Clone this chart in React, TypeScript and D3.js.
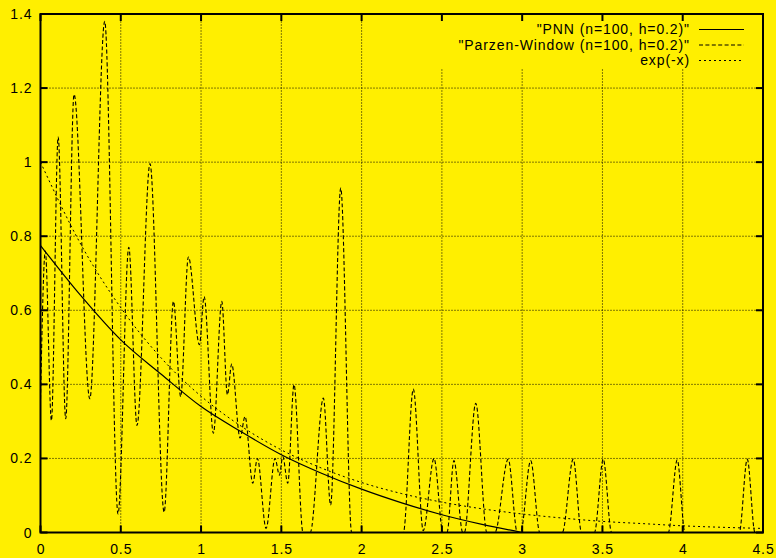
import React from "react";
import * as d3 from "d3";

const W = 776;
const H = 558;

const xTicks = [0, 0.5, 1, 1.5, 2, 2.5, 3, 3.5, 4, 4.5];
const xTickLabels = ["0", "0.5", "1", "1.5", "2", "2.5", "3", "3.5", "4", "4.5"];
const yTicks = [0, 0.2, 0.4, 0.6, 0.8, 1, 1.2, 1.4];
const yTickLabels = ["0", "0.2", "0.4", "0.6", "0.8", "1", "1.2", "1.4"];

const legendLabels = [
  "\"PNN (n=100, h=0.2)\"",
  "\"Parzen-Window (n=100, h=0.2)\"",
  "exp(-x)",
];

// PNN estimate (solid)
const pnnX = [0, 0.25, 0.5, 0.75, 1, 1.25, 1.5, 1.75, 2, 2.25, 2.5, 2.75, 3];
const pnnY = [0.775, 0.64, 0.52, 0.428, 0.34, 0.272, 0.21, 0.16, 0.117, 0.08, 0.048, 0.022, 0.0];

// Parzen-window estimate (dashed) – peaks and troughs
const parzenX = [
  0, 0.03, 0.068, 0.11, 0.157, 0.209, 0.307, 0.4, 0.483, 0.55, 0.601, 0.682, 0.77,
  0.828, 0.873, 0.921, 0.99, 1.019, 1.077, 1.129, 1.164, 1.191, 1.243, 1.274, 1.322,
  1.351, 1.405, 1.461, 1.488, 1.509, 1.54, 1.579, 1.635, 1.68, 1.762, 1.807, 1.87,
  1.938, 2.26, 2.322, 2.384, 2.451, 2.507, 2.532, 2.575, 2.63, 2.64, 2.711, 2.78,
  2.83, 2.913, 2.97, 2.99, 3.053, 3.11, 3.25, 3.318, 3.37, 3.45, 3.505, 3.557, 3.91,
  3.966, 4.014, 4.352, 4.402, 4.45, 4.5,
];
const parzenY = [
  0.36, 0.76, 0.302, 1.068, 0.307, 1.183, 0.361, 1.38, 0.05, 0.77, 0.289, 0.996, 0.055,
  0.624, 0.367, 0.744, 0.507, 0.637, 0.268, 0.624, 0.372, 0.455, 0.255, 0.313, 0.133,
  0.2, 0.011, 0.2, 0.155, 0.205, 0.133, 0.399, 0, 0, 0.363, 0.074, 0.93,
  0, 0, 0.387, 0.005, 0.2, 0, 0, 0.194, 0, 0, 0.349, 0,
  0, 0.198, 0, 0, 0.194, 0, 0, 0.198, 0, 0, 0.198, 0, 0,
  0.196, 0, 0, 0.198, 0, 0,
];

// exp(-x) (dotted)
const expX = [0, 0.25, 0.5, 0.75, 1, 1.25, 1.5, 1.75, 2, 2.25, 2.5, 2.75, 3, 3.25, 3.5, 3.75, 4, 4.25, 4.5];
const expY = [1, 0.779, 0.607, 0.472, 0.368, 0.287, 0.223, 0.174, 0.135, 0.105, 0.082, 0.064, 0.05, 0.039, 0.03, 0.024, 0.018, 0.014, 0.011];

const BG = "#FFEF00";
const FONT = "'Liberation Sans', Arial, Helvetica, sans-serif";

export default function App() {
  const x = d3.scaleLinear().domain([0, 4.5]).range([40.5, 763]);
  const y = d3.scaleLinear().domain([0, 1.4]).range([532.5, 14]);
  const [x0, x1] = x.range();
  const [y0, y1] = y.range();

  const line = d3
    .line<[number, number]>()
    .x((d) => x(d[0]))
    .y((d) => y(d[1]))
    .curve(d3.curveMonotoneX);

  const pnn = line(pnnX.map((v, i) => [v, pnnY[i]] as [number, number])) || "";
  const parzen = line(parzenX.map((v, i) => [v, parzenY[i]] as [number, number])) || "";
  const ex = line(expX.map((v, i) => [v, expY[i]] as [number, number])) || "";

  const dashes = [undefined, "4 2.4", "2 3"];
  const legendRows = [29.5, 45, 60.5];

  return (
    <svg
      width={W}
      height={H}
      style={{ position: "absolute", left: 0, top: 0, display: "block" }}
      fontFamily={FONT}
    >
      <rect x={0} y={0} width={W} height={H} fill={BG} />
      <defs>
        <clipPath id="plot">
          <rect x={x0} y={y1} width={x1 - x0} height={y0 - y1} />
        </clipPath>
      </defs>
      {/* grid */}
      <g stroke="#000" strokeWidth={1} strokeDasharray="1 2">
        {xTicks.slice(1, -1).map((t) => (
          <line key={"gx" + t} x1={x(t)} x2={x(t)} y1={y0} y2={y1} />
        ))}
        {yTicks.slice(1, -1).map((t) => (
          <line key={"gy" + t} x1={x0} x2={x1} y1={y(t)} y2={y(t)} />
        ))}
      </g>
      {/* key area masks grid */}
      <rect x={400} y={y1 + 1} width={x1 - 401} height={54} fill={BG} />
      {/* curves */}
      <g clipPath="url(#plot)" fill="none" stroke="#000">
        <path d={ex} strokeWidth={1} strokeDasharray={dashes[2]} />
        <path d={parzen} strokeWidth={1.1} strokeDasharray={dashes[1]} />
        <path d={pnn} strokeWidth={1.2} />
      </g>
      {/* border */}
      <rect x={x0} y={y1} width={x1 - x0} height={y0 - y1} fill="none" stroke="#000" strokeWidth={2} />
      {/* ticks */}
      <g stroke="#000" strokeWidth={2}>
        {xTicks.map((t) => (
          <g key={"tx" + t}>
            <line x1={x(t)} x2={x(t)} y1={y0} y2={y0 - 7} />
            <line x1={x(t)} x2={x(t)} y1={y1} y2={y1 + 7} />
          </g>
        ))}
        {yTicks.map((t) => (
          <g key={"ty" + t}>
            <line x1={x0} x2={x0 + 7} y1={y(t)} y2={y(t)} />
            <line x1={x1} x2={x1 - 7} y1={y(t)} y2={y(t)} />
          </g>
        ))}
      </g>
      {/* tick labels */}
      <g fontSize={14} fill="#000" letterSpacing={0.9}>
        {xTicks.map((t, i) => (
          <text key={"lx" + t} x={x(t) + 0.5} y={554} textAnchor="middle">
            {xTickLabels[i]}
          </text>
        ))}
        {yTicks.map((t, i) => (
          <text key={"ly" + t} x={32.5} y={y(t) + 5} textAnchor="end">
            {yTickLabels[i]}
          </text>
        ))}
      </g>
      {/* legend */}
      <g fontSize={14} fill="#000" letterSpacing={0.9}>
        {legendLabels.map((lab, i) => (
          <g key={"lg" + i}>
            <text x={690} y={legendRows[i] + 4.8} textAnchor="end">
              {lab}
            </text>
            <line
              x1={699}
              x2={744}
              y1={legendRows[i]}
              y2={legendRows[i]}
              stroke="#000"
              strokeWidth={i === 0 ? 1.2 : 1}
              strokeDasharray={dashes[i]}
            />
          </g>
        ))}
      </g>
    </svg>
  );
}
